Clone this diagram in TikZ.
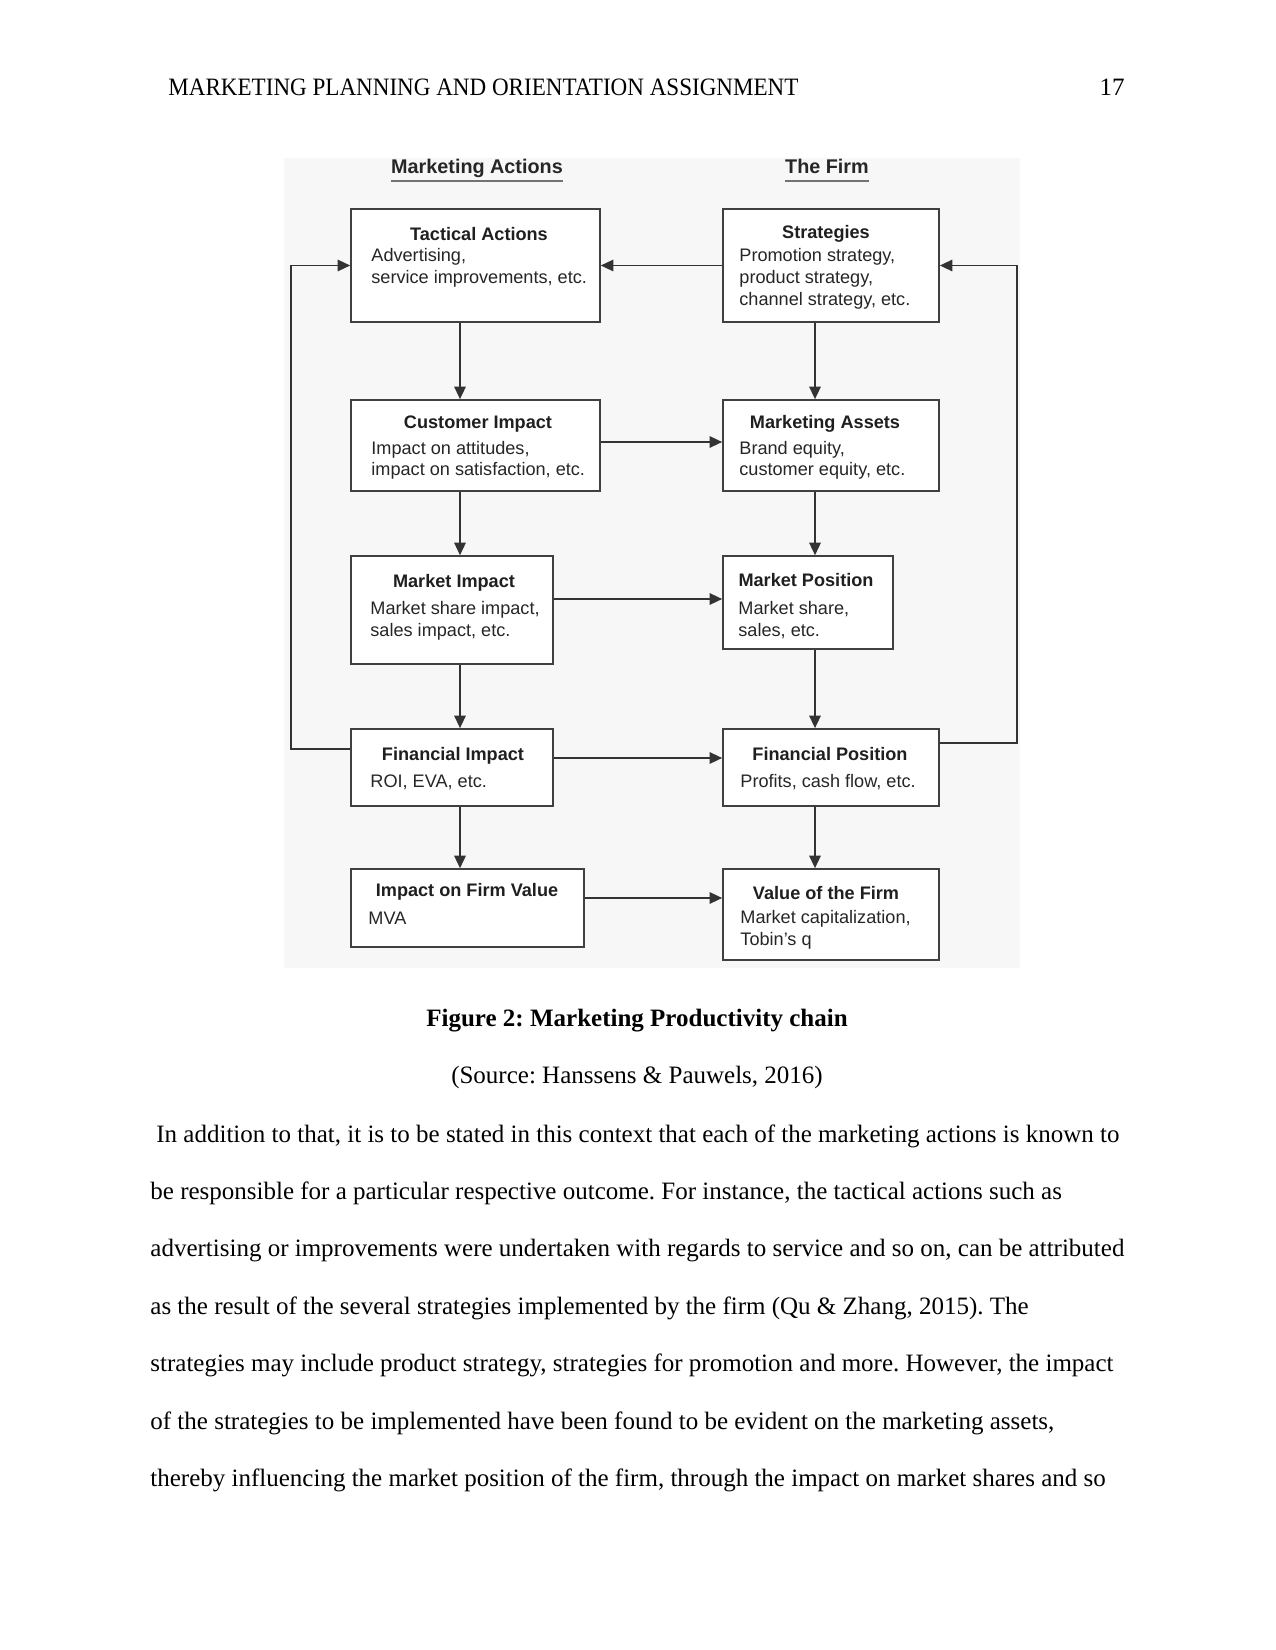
\documentclass[tikz,border=0pt]{standalone}
\usepackage{fontspec}
\usepackage{graphicx}
\usepackage{tikz}
\usetikzlibrary{arrows.meta}
\setmainfont{Liberation Serif}
\newfontfamily\boxfont{Liberation Sans}
\frenchspacing

\tikzset{
  box/.style={draw=black!75, line width=0.8pt, fill=white, inner sep=0pt},
  ttl/.style={font=\boxfont\fontsize{8.7}{10.4}\selectfont\bfseries, text=black!88, anchor=base, inner sep=0pt},
  txt/.style={font=\boxfont\fontsize{8.7}{10.4}\selectfont, text=black!85, anchor=base west, inner sep=0pt},
  head/.style={font=\boxfont\fontsize{9.5}{11}\selectfont\bfseries, text=black!85, anchor=base, inner sep=0pt},
  uline/.style={draw=black!55, line width=1pt},
  arr/.style={draw=black!80, line width=0.75pt, -{Triangle[length=6pt,width=5.5pt]}},
  fb/.style={draw=black!80, line width=0.75pt, -{Triangle[length=6pt,width=5.5pt]}},
  pagetext/.style={font=\fontsize{12}{14}\selectfont, anchor=base west, inner sep=0pt}
}

\begin{document}
\begin{tikzpicture}[x=0.48pt, y=-0.48pt]
  \useasboundingbox (0,0) rectangle (1275,1650);
  \fill[white] (0,0) rectangle (1275,1650);

  % running head
  \node[pagetext] (runhead) at (168,96) {\scalebox{0.923}[1]{MARKETING PLANNING AND ORIENTATION ASSIGNMENT}};
  \node[pagetext, anchor=base east] (pageno) at (1125,96) {17};

  % figure background
  \fill[black!3] (284,158) rectangle (1020,968);

  % column headings
  \node[head] (hact) at (477,174) {Marketing Actions};
  \node[head] (hfirm) at (827,174) {The Firm};
  \draw[uline] ([yshift=-3.4pt]hact.base west) -- ([yshift=-3.4pt]hact.base east);
  \draw[uline] ([yshift=-3.4pt]hfirm.base west) -- ([yshift=-3.4pt]hfirm.base east);

  % boxes
  \node[box, minimum width=119.5pt, minimum height=54.2pt] (tact) at (475.5,265.5) {};
  \node[box, minimum width=103.7pt, minimum height=54.2pt] (strat) at (831,265.5) {};
  \node[box, minimum width=119.5pt, minimum height=43.7pt] (cust) at (475.5,445.5) {};
  \node[box, minimum width=103.7pt, minimum height=43.7pt] (assets) at (831,445.5) {};
  \node[box, minimum width=97pt, minimum height=51.8pt] (mimp) at (452,610) {};
  \node[box, minimum width=81.6pt, minimum height=44.6pt] (mpos) at (808,602.5) {};
  \node[box, minimum width=97pt, minimum height=37pt] (fimp) at (452,767.5) {};
  \node[box, minimum width=103.7pt, minimum height=37pt] (fpos) at (831,767.5) {};
  \node[box, minimum width=111.8pt, minimum height=37.4pt] (fval) at (467.5,908) {};
  \node[box, minimum width=103.7pt, minimum height=43.7pt] (vfirm) at (831,914.5) {};

  % box texts
  \node[ttl] (tact-t) at (479,241) {Tactical Actions};
  \node[txt] (tact-a) at (371,262) {Advertising,};
  \node[txt] (tact-b) at (371,284) {service improvements, etc.};

  \node[ttl] (strat-t) at (826,239) {Strategies};
  \node[txt] (strat-a) at (739,262) {Promotion strategy,};
  \node[txt] (strat-b) at (739,284) {product strategy,};
  \node[txt] (strat-c) at (739,306) {channel strategy, etc.};

  \node[ttl] (cust-t) at (478,429) {Customer Impact};
  \node[txt] (cust-a) at (371,454) {Impact on attitudes,};
  \node[txt] (cust-b) at (371,476) {impact on satisfaction, etc.};

  \node[ttl] (assets-t) at (825,429) {Marketing Assets};
  \node[txt] (assets-a) at (739,454) {Brand equity,};
  \node[txt] (assets-b) at (739,476) {customer equity, etc.};

  \node[ttl] (mimp-t) at (454,587) {Market Impact};
  \node[txt] (mimp-a) at (370,614) {Market share impact,};
  \node[txt] (mimp-b) at (370,636) {sales impact, etc.};

  \node[ttl] (mpos-t) at (806,586) {Market Position};
  \node[txt] (mpos-a) at (738,614) {Market share,};
  \node[txt] (mpos-b) at (738,636) {sales, etc.};

  \node[ttl] (fimp-t) at (453,760) {Financial Impact};
  \node[txt] (fimp-a) at (370,787) {ROI, EVA, etc.};

  \node[ttl] (fpos-t) at (830,760) {Financial Position};
  \node[txt] (fpos-a) at (740,787) {Profits, cash flow, etc.};

  \node[ttl] (fval-t) at (467,896) {Impact on Firm Value};
  \node[txt] (fval-a) at (368,924) {MVA};

  \node[ttl] (vfirm-t) at (826,899) {Value of the Firm};
  \node[txt] (vfirm-a) at (740,923) {Market capitalization,};
  \node[txt] (vfirm-b) at (740,945) {Tobin’s q};

  % guide coordinates for the connectors
  \coordinate (lx) at (460,0);
  \coordinate (rx) at (815,0);
  \coordinate (h1) at (0,442);
  \coordinate (h2) at (0,599);
  \coordinate (h3) at (0,758);
  \coordinate (h4) at (0,898);
  \coordinate (fbl) at (291,749);
  \coordinate (fbr) at (1017,743);

  % down the columns
  \draw[arr] (tact.south -| lx) -- (cust.north -| lx);
  \draw[arr] (cust.south -| lx) -- (mimp.north -| lx);
  \draw[arr] (mimp.south -| lx) -- (fimp.north -| lx);
  \draw[arr] (fimp.south -| lx) -- (fval.north -| lx);
  \draw[arr] (strat.south -| rx) -- (assets.north -| rx);
  \draw[arr] (assets.south -| rx) -- (mpos.north -| rx);
  \draw[arr] (mpos.south -| rx) -- (fpos.north -| rx);
  \draw[arr] (fpos.south -| rx) -- (vfirm.north -| rx);

  % across
  \draw[arr] (strat.west) -- (tact.east);
  \draw[arr] (cust.east |- h1) -- (assets.west |- h1);
  \draw[arr] (mimp.east |- h2) -- (mpos.west |- h2);
  \draw[arr] (fimp.east |- h3) -- (fpos.west |- h3);
  \draw[arr] (fval.east |- h4) -- (vfirm.west |- h4);

  % feedback loops
  \draw[fb] (fimp.west |- fbl) -- (fbl) |- (tact.west);
  \draw[fb] (fpos.east |- fbr) -- (fbr) |- (strat.east);

  % caption
  \node[pagetext, anchor=base, font=\fontsize{12}{14}\selectfont\bfseries] (cap) at (637,1026) {Figure 2: Marketing Productivity chain};
  \node[pagetext, anchor=base] (src) at (637,1083) {(Source: Hanssens \& Pauwels, 2016)};

  % body text
  \node[pagetext] (line1) at (156,1142) {In addition to that, it is to be stated in this context that each of the marketing actions is known to};
  \foreach \t [count=\i from 2] in {
    {be responsible for a particular respective outcome. For instance, the tactical actions such as},
    {advertising or improvements were undertaken with regards to service and so on, can be attributed},
    {as the result of the several strategies implemented by the firm (Qu \& Zhang, 2015). The},
    {strategies may include product strategy, strategies for promotion and more. However, the impact},
    {of the strategies to be implemented have been found to be evident on the marketing assets,},
    {thereby influencing the market position of the firm, through the impact on market shares and so}}
    \node[pagetext] (line\i) at (150,{1142+57.4*(\i-1)}) {\t};
\end{tikzpicture}
\end{document}
